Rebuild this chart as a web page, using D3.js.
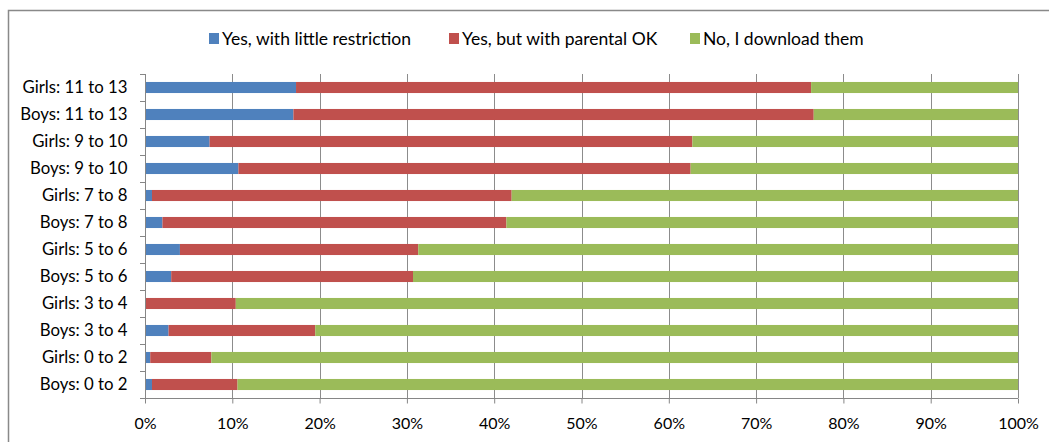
<!DOCTYPE html>
<html><head><meta charset="utf-8">
<script src="https://cdn.jsdelivr.net/npm/d3@7/dist/d3.min.js"></script>
<style>
html,body{margin:0;padding:0;background:#fff;}
svg{display:block;font-family:Lato, "Liberation Sans", sans-serif;}
</style></head><body>
<svg id="chart" width="1049" height="442"></svg>
<script>
const categories = ["Girls: 11 to 13","Boys: 11 to 13","Girls: 9 to 10","Boys: 9 to 10","Girls: 7 to 8","Boys: 7 to 8","Girls: 5 to 6","Boys: 5 to 6","Girls: 3 to 4","Boys: 3 to 4","Girls: 0 to 2","Boys: 0 to 2"];
const seriesNames = ["Yes, with little restriction","Yes, but with parental OK","No, I download them"];
const littleRestriction = [17.3,17.0,7.4,10.7,0.8,2.0,4.0,3.0,0.0,2.7,0.6,0.8];
const parentalOK       = [59.0,59.6,55.3,51.8,41.2,39.4,27.3,27.7,10.4,16.8,7.0,9.8];
const downloadThem     = [23.7,23.4,37.3,37.5,58.0,58.6,68.7,69.3,89.6,80.5,92.4,89.4];
const xTicks = [0,10,20,30,40,50,60,70,80,90,100];
const xTickLabels = ["0%","10%","20%","30%","40%","50%","60%","70%","80%","90%","100%"];
const colors = ["#4F81BD","#C0504D","#9BBB59"];

const svg = d3.select("#chart");
// outer frame
svg.append("rect").attr("x",8.5).attr("y",10.5).attr("width",1100).attr("height",500)
  .attr("fill","#fff").attr("stroke","#898989").attr("stroke-width",1.5);

const x = d3.scaleLinear().domain([0,100]).range([145,1018]);
const y = d3.scaleBand().domain(categories).range([74,398]).paddingInner(0.59).paddingOuter(0.295);

// gridlines
svg.append("g").selectAll("line").data(xTicks.slice(1)).join("line")
  .attr("x1",d=>Math.round(x(d))+0.5).attr("x2",d=>Math.round(x(d))+0.5)
  .attr("y1",74).attr("y2",398).attr("stroke","#8c8c8c").attr("stroke-width",1);

// stacked data
const rows = categories.map((c,i)=>({cat:c, a:littleRestriction[i], b:parentalOK[i], c:downloadThem[i]}));
const stack = d3.stack().keys(["a","b","c"])(rows);
svg.append("g").selectAll("g").data(stack).join("g").attr("fill",(d,i)=>colors[i])
  .selectAll("rect").data(d=>d).join("rect")
  .attr("x",d=>x(d[0])).attr("width",d=>Math.max(0,x(d[1])-x(d[0])))
  .attr("y",d=>y(d.data.cat)).attr("height",y.bandwidth());

// x axis
const xAxis = d3.axisBottom(x).tickValues(xTicks).tickFormat((d,i)=>xTickLabels[i]).tickSize(5).tickPadding(14);
const gx = svg.append("g").attr("transform","translate(0,398.5)").call(xAxis);
gx.select(".domain").attr("stroke","#868686").attr("d","M145,0H1018");
gx.selectAll(".tick line").attr("stroke","#868686");
gx.selectAll("text").attr("font-size",16).attr("fill","#000").attr("font-family","Lato, sans-serif");

// y axis
const yAxis = d3.axisLeft(y).tickSize(0).tickPadding(18);
const gy = svg.append("g").attr("transform","translate(145.5,0)").call(yAxis);
gy.select(".domain").attr("stroke","#868686").attr("d","M0,74V398");
gy.selectAll("text").attr("font-size",16.8).attr("fill","#000").attr("font-family","Lato, sans-serif");
// y boundary ticks
svg.append("g").selectAll("line").data(d3.range(categories.length+1)).join("line")
  .attr("x1",140).attr("x2",145.5)
  .attr("y1",d=>Math.round(74+d*y.step())+0.5).attr("y2",d=>Math.round(74+d*y.step())+0.5)
  .attr("stroke","#868686");

// legend
const legendX = [209,449,690];
const lg = svg.append("g").selectAll("g").data(seriesNames).join("g")
  .attr("transform",(d,i)=>`translate(${legendX[i]},33)`);
lg.append("rect").attr("width",10).attr("height",11).attr("fill",(d,i)=>colors[i]);
lg.append("text").attr("x",13).attr("y",5.5).attr("dy","0.35em").attr("font-size",17.5).text(d=>d);
</script>
</body></html>
